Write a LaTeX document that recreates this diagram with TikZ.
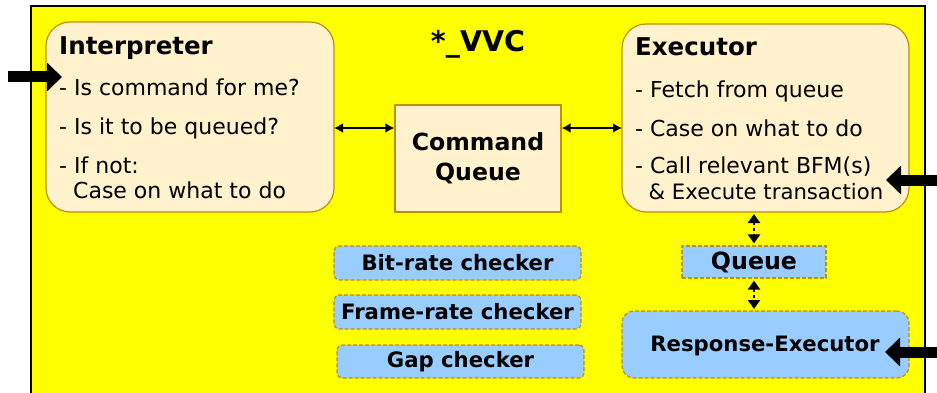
\documentclass[tikz,border=0pt]{standalone}
\usepackage{fontspec}
\setmainfont{DejaVu Sans}
\usetikzlibrary{arrows.meta}
\definecolor{vvcyellow}{HTML}{FFFF00}
\definecolor{panelfill}{HTML}{FFF2CC}
\definecolor{panelline}{HTML}{BF9000}
\definecolor{checkfill}{HTML}{99CCFF}
\tikzset{
  panel/.style={draw=panelline, fill=panelfill, line width=1.2pt, rounded corners=24pt},
  cqbox/.style={draw=panelline, fill=panelfill, line width=1.2pt},
  checkbox/.style={draw=panelline, fill=checkfill, line width=1.2pt, dash pattern=on 4pt off 2pt, rounded corners=5pt},
  title/.style={font=\bfseries\fontsize{24.5}{28}\selectfont, anchor=base west, inner sep=0pt},
  item/.style={font=\fontsize{22}{26}\selectfont, anchor=base west, inner sep=0pt},
  boxlabel/.style={font=\bfseries\fontsize{21.2}{25}\selectfont, align=center, inner sep=0pt},
  bigarrow/.style={line width=11pt, -{Triangle[length=15pt,width=28pt]}},
  link/.style={line width=1.8pt, {Latex[length=9pt,width=10pt]}-{Latex[length=9pt,width=10pt]}},
  dotlink/.style={line width=2.8pt, dash pattern=on 2.8pt off 3.2pt, shorten <=2pt, shorten >=2pt,
    {Triangle[length=9pt,width=12pt]}-{Triangle[length=9pt,width=12pt]}},
}
\begin{document}
\begin{tikzpicture}[x=1pt,y=-1pt]
\useasboundingbox (0,0) rectangle (937,393);
\fill[white] (0,0) rectangle (937,393);
% outer VVC frame
\draw[fill=vvcyellow, line width=1.8pt] (31,400) -- (31,6) -- (925,6) -- (925,400);
\node[font=\bfseries\fontsize{28.5}{32}\selectfont] (vvc) at (478,44) {*\_VVC};

% interpreter
\draw[panel] (46,22) rectangle (334,212);
\coordinate (interp-e) at (334,128);
\node[title] (interp-t) at (59,55) {Interpreter};
\node[item] (interp-1) at (59,96) {- Is command for me?};
\node[item] (interp-2) at (59,135) {- Is it to be queued?};
\node[item] (interp-3) at (59,173) {- If not:};
\node[item] (interp-4) at (59,198) {\ \ Case on what to do};

% command queue
\node[cqbox, minimum width=166pt, minimum height=107pt] (cq) at (478,158.5) {};
\node[boxlabel, font=\bfseries\fontsize{23.6}{30}\selectfont] (cq-t) at (cq.center) {Command\\Queue};

% executor
\draw[panel] (622,24) rectangle (909,212);
\coordinate (exec-w) at (622,128);
\coordinate (exec-s) at (754,212);
\node[title] (exec-t) at (635,56) {Executor};
\node[item] (exec-1) at (635,98) {- Fetch from queue};
\node[item] (exec-2) at (635,136) {- Case on what to do};
\node[item] (exec-3) at (635,174) {- Call relevant BFM(s)};
\node[item, font=\fontsize{21.2}{25}\selectfont] (exec-4) at (635,199) {\ \ \& Execute transaction};

% executor-side queue and response executor
\node[checkbox, rounded corners=0pt, minimum width=144pt, minimum height=32pt] (q) at (754,262) {};
\node[boxlabel, font=\bfseries\fontsize{23.7}{28}\selectfont] (q-t) at (q.center) {Queue};
\node[checkbox, rounded corners=12pt, minimum width=287pt, minimum height=67pt] (resp) at (765.5,344.5) {};
\node[boxlabel] (resp-t) at (765,346) {Response-Executor};
\coordinate (resp-n) at (754,311);

% checkers
\node[checkbox, minimum width=247pt, minimum height=34pt] (bit) at (457.5,263) {};
\node[boxlabel] at (bit.center) {Bit-rate checker};
\node[checkbox, minimum width=247pt, minimum height=34pt] (frame) at (457.5,312) {};
\node[boxlabel] at (frame.center) {Frame-rate checker};
\node[checkbox, minimum width=247pt, minimum height=33pt] (gap) at (460.5,361.5) {};
\node[boxlabel] at (gap.center) {Gap checker};

% connectors
\draw[link] (interp-e) -- (cq.west |- interp-e);
\draw[link] (cq.east |- exec-w) -- (exec-w);
\draw[dotlink] (exec-s) -- (q.north);
\draw[dotlink] (q.south) -- (resp-n);

% external inputs
\coordinate (in-l) at (8,77);
\coordinate (in-l-tip) at (62,77);
\coordinate (in-e) at (945,180);
\coordinate (in-e-tip) at (886,180);
\coordinate (in-r) at (945,352);
\coordinate (in-r-tip) at (885,352);
\draw[bigarrow] (in-l) -- (in-l-tip);
\draw[bigarrow] (in-e) -- (in-e-tip);
\draw[bigarrow] (in-r) -- (in-r-tip);
\end{tikzpicture}
\end{document}
